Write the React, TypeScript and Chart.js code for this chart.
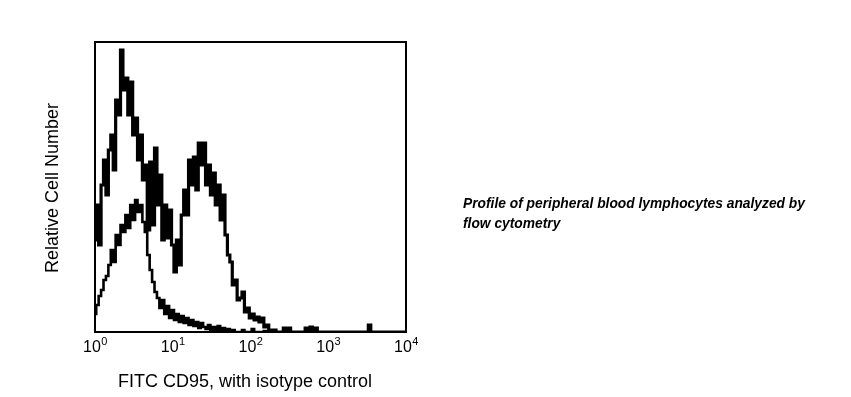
import React, { useEffect, useRef } from "react";
import { Chart, registerables } from "chart.js";

Chart.register(...registerables);

// Histogram counts per channel (32 channels per decade, channel 0 = 10^0)
const channelsPerDecade = 32;
const cd95Counts = [
  92, 127, 87, 147, 172, 137, 182, 197, 162, 232,
  217, 282, 242, 254, 217, 250, 197, 214, 172, 197,
  152, 167, 102, 170, 107, 184, 127, 157, 92, 127,
  94, 122, 87, 60, 92, 67, 117, 142, 117, 172,
  147, 175, 142, 189, 167, 189, 147, 167, 137, 159,
  127, 147, 112, 137, 97, 77, 70, 47, 52, 32,
  34, 40, 20, 24, 14, 18, 12, 15, 10, 14,
  5, 7, 2, 0, 2, 0, 0, 0, 4, 0,
  4, 0, 0, 0, 0, 0, 0, 4, 0, 5,
  0, 4, 0, 0, 0, 0, 0, 0, 0, 0,
  0, 0, 0, 0, 0, 0, 0, 0, 0, 0,
  0, 0, 0, 7, 0, 0, 0, 0, 0, 0,
  0, 0, 0, 0, 0, 0, 0, 0, 0,
];
const isotypeCounts = [
  18, 27, 36, 42, 52, 56, 67, 82, 70, 97,
  87, 107, 100, 117, 104, 127, 112, 132, 120, 127,
  110, 100, 77, 62, 50, 40, 34, 24, 32, 18,
  26, 14, 22, 12, 18, 10, 16, 9, 14, 7,
  12, 6, 10, 4, 9, 5, 3, 7, 2, 5,
  2, 6, 1, 4, 0, 3, 0, 2, 0, 0,
  0, 2, 0, 0, 0, 3, 0, 0, 0, 0,
  1, 0, 0,
];
const decadeExponents = ["0", "1", "2", "3", "4"];
const xTitle = "FITC CD95, with isotype control";
const yTitle = "Relative Cell Number";
const captionLines = [
  "Profile of peripheral blood lymphocytes analyzed by",
  "flow cytometry",
];

const FONT = '"Liberation Sans", Arial, Helvetica, sans-serif';

const toPoints = (counts: number[]) =>
  counts.map((c, i) => ({ x: i / channelsPerDecade, y: c }));

export default function App() {
  const ref = useRef<HTMLCanvasElement | null>(null);

  useEffect(() => {
    document.body.style.margin = "0";
    const canvas = ref.current;
    if (!canvas) return;

    const decorations = {
      id: "decorations",
      afterDraw(chart: any) {
        const { ctx, chartArea } = chart;
        const xs = chart.scales.x;
        ctx.save();
        // frame
        ctx.strokeStyle = "#000";
        ctx.lineWidth = 2;
        ctx.strokeRect(
          chartArea.left,
          chartArea.top,
          chartArea.right - chartArea.left,
          chartArea.bottom - chartArea.top
        );
        ctx.fillStyle = "#000";
        // x tick labels 10^n
        decadeExponents.forEach((e) => {
          const px = xs.getPixelForValue(Number(e));
          ctx.font = `16px ${FONT}`;
          const w1 = ctx.measureText("10").width;
          ctx.font = `11px ${FONT}`;
          const w2 = ctx.measureText(e).width;
          const start = px - (w1 + w2) / 2;
          ctx.textAlign = "left";
          ctx.textBaseline = "alphabetic";
          ctx.font = `16px ${FONT}`;
          ctx.fillText("10", start, 352);
          ctx.font = `11px ${FONT}`;
          ctx.fillText(e, start + w1 + 0.5, 345);
        });
        // x title
        ctx.font = `18px ${FONT}`;
        ctx.textAlign = "center";
        ctx.fillText(xTitle, 245, 387);
        // y title
        ctx.save();
        ctx.translate(58, 188);
        ctx.rotate(-Math.PI / 2);
        ctx.textAlign = "center";
        ctx.fillText(yTitle, 0, 0);
        ctx.restore();
        // caption
        ctx.font = `italic bold 13.8px ${FONT}`;
        ctx.textAlign = "left";
        captionLines.forEach((line, i) => {
          ctx.fillText(line, 463, 208 + i * 20);
        });
        ctx.restore();
      },
    };

    const chart = new Chart(canvas, {
      type: "line",
      data: {
        datasets: [
          {
            label: "CD95",
            data: toPoints(cd95Counts),
            borderColor: "#000",
            borderWidth: 3.2,
            pointRadius: 0,
            stepped: "middle",
            fill: false,
          },
          {
            label: "Isotype control",
            data: toPoints(isotypeCounts),
            borderColor: "#000",
            borderWidth: 2.6,
            pointRadius: 0,
            stepped: "middle",
            fill: false,
          },
        ],
      },
      options: {
        animation: false,
        responsive: false,
        devicePixelRatio: 1,
        layout: { padding: { left: 95, top: 42, right: 445, bottom: 65 } },
        scales: {
          x: { type: "linear", min: 0, max: 4, display: false },
          y: { type: "linear", min: 0, max: 290, display: false },
        },
        plugins: {
          legend: { display: false },
          tooltip: { enabled: false },
        },
      },
      plugins: [decorations],
    });
    return () => chart.destroy();
  }, []);

  return (
    <div style={{ position: "fixed", left: 0, top: 0, width: 851, height: 397, background: "#fff" }}>
      <canvas ref={ref} width={851} height={397} style={{ width: 851, height: 397, display: "block" }} />
    </div>
  );
}
